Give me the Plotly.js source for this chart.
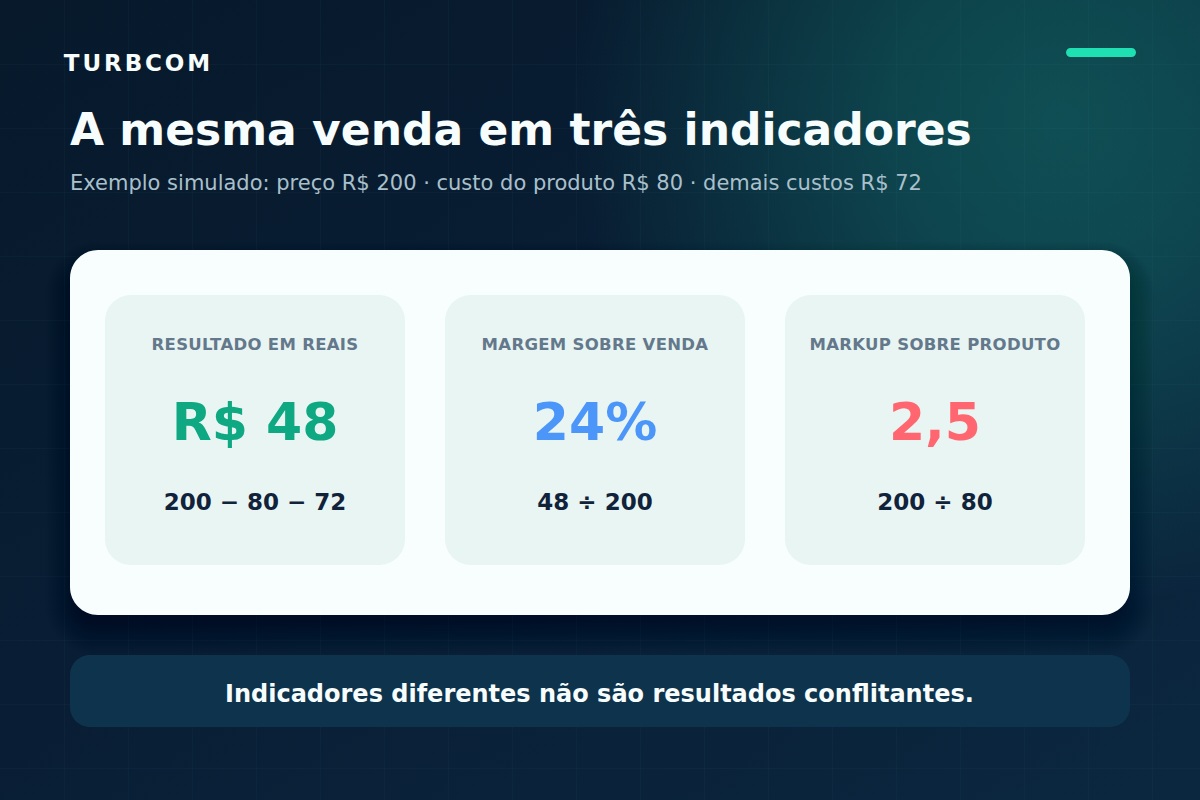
<!DOCTYPE html>
<html lang="pt-BR">
<head>
<meta charset="utf-8">
<script src="https://cdn.plot.ly/plotly-3.0.1.min.js"></script>
<style>
html,body{margin:0;padding:0;width:1200px;height:800px;overflow:hidden;background:#08192c}
#chart{width:1200px;height:800px;
background:
 radial-gradient(circle 490px at 1060px 120px, rgba(30,205,165,0.28) 0%, rgba(30,205,165,0.22) 35%, rgba(30,205,165,0.10) 70%, rgba(30,205,165,0) 100%),
 linear-gradient(150deg,#07192b 0%,#091e35 50%,#0b2740 100%);}
</style>
</head>
<body>
<div id="chart"></div>
<script>
const FONT = 'DejaVu Sans, sans-serif';
const brand = 'TURBCOM';
const chartTitle = 'A mesma venda em três indicadores';
const subtitle = 'Exemplo simulado: preço R$ 200 · custo do produto R$ 80 · demais custos R$ 72';
const footer = 'Indicadores diferentes não são resultados conflitantes.';
const cardLabels = ['RESULTADO EM REAIS', 'MARGEM SOBRE VENDA', 'MARKUP SOBRE PRODUTO'];
const cardValues = ['R$ 48', '24%', '2,5'];
const cardFormulas = ['200 − 80 − 72', '48 ÷ 200', '200 ÷ 80'];
const cardColors = ['#0ea882', '#4b96f8', '#ff6670'];
const cardLeft = [105, 445, 785];
const CW = 300;

function rr(x0, y0, x1, y1, r) {
  const k = r * 0.4477;
  return `M${x0+r},${y0} L${x1-r},${y0} C${x1-k},${y0} ${x1},${y0+k} ${x1},${y0+r} L${x1},${y1-r} C${x1},${y1-k} ${x1-k},${y1} ${x1-r},${y1} L${x0+r},${y1} C${x0+k},${y1} ${x0},${y1-k} ${x0},${y1-r} L${x0},${y0+r} C${x0},${y0+k} ${x0+k},${y0} ${x0+r},${y0} Z`;
}
function shape(path, fill, extra) {
  return Object.assign({type:'path', xref:'x', yref:'y', layer:'between', path, fillcolor:fill, line:{width:0}}, extra||{});
}
const shapes = [];
// soft shadow of the white panel
for (let d = 24; d >= -8; d -= 2) {
  shapes.push(shape(rr(70-d, 250+16-d, 1130+d, 615+16+d, Math.max(28+d, 8)), 'rgba(6,14,18,0.015)'));
}
shapes.push(shape(rr(70, 250, 1130, 615, 28), '#f8fefd'));
cardLeft.forEach(x => shapes.push(shape(rr(x, 295, x+CW, 565, 26), '#e9f5f2')));
shapes.push(shape(rr(70, 655, 1130, 727, 20), '#0e334c'));
shapes.push(shape(rr(1066, 48, 1136, 57, 4.5), '#1fe0b2'));

const centers = cardLeft.map(x => x + CW/2);
const textTrace = (text, y, size, color) => ({
  type:'scatter', mode:'text', x:centers, y:centers.map(() => y), text,
  textposition:'middle center', cliponaxis:false, hoverinfo:'skip', showlegend:false,
  textfont:{family:FONT, size, color, weight:700}
});
const data = [
  textTrace(cardLabels, 346, 16.5, '#64788c'),
  textTrace(cardValues, 427, 52, cardColors),
  textTrace(cardFormulas, 504, 23, '#11233a'),
];

const annotations = [
  {text:brand, x:73.7, y:63, xanchor:'left', yanchor:'middle', font:{size:23, color:'#f7fdfd', weight:700}},
  {text:subtitle, x:70, y:183, xanchor:'left', yanchor:'middle', font:{size:21, color:'#a9c0cc'}},
  {text:footer, x:599.7, y:694, xanchor:'center', yanchor:'middle', font:{size:24, color:'#f7fdfd', weight:700}},
].map(a => Object.assign({xref:'x', yref:'y', showarrow:false, borderpad:0, borderwidth:0}, a,
  {font:Object.assign({family:FONT}, a.font)}));

const hiddenAxis = (range) => ({
  range, tick0:0, dtick:64, showgrid:true, gridcolor:'rgba(120,200,200,0.035)', gridwidth:1,
  zeroline:false, showline:false, showticklabels:false, ticks:'', fixedrange:true
});
const layout = {
  width:1200, height:800, margin:{l:0,r:0,t:0,b:0,pad:0},
  paper_bgcolor:'rgba(0,0,0,0)', plot_bgcolor:'rgba(0,0,0,0)',
  title:{text:chartTitle, x:70/1200, xref:'paper', xanchor:'left', y:1-130/800, yref:'paper', yanchor:'middle',
         font:{family:FONT, size:44, color:'#f7fdfd', weight:700}},
  xaxis:hiddenAxis([0,1200]), yaxis:hiddenAxis([800,0]),
  shapes, annotations, showlegend:false, hovermode:false, font:{family:FONT}
};
Plotly.newPlot('chart', data, layout, {displayModeBar:false, staticPlot:true, responsive:false}).then(gd => {
  gd.querySelectorAll('.annotation-text').forEach(t => {
    if (t.textContent === brand) t.style.letterSpacing = '2.9px';
  });
  gd.querySelectorAll('.textpoint text').forEach(t => {
    if (cardLabels.includes(t.textContent)) t.style.letterSpacing = '0.3px';
  });
});
</script>
</body>
</html>
